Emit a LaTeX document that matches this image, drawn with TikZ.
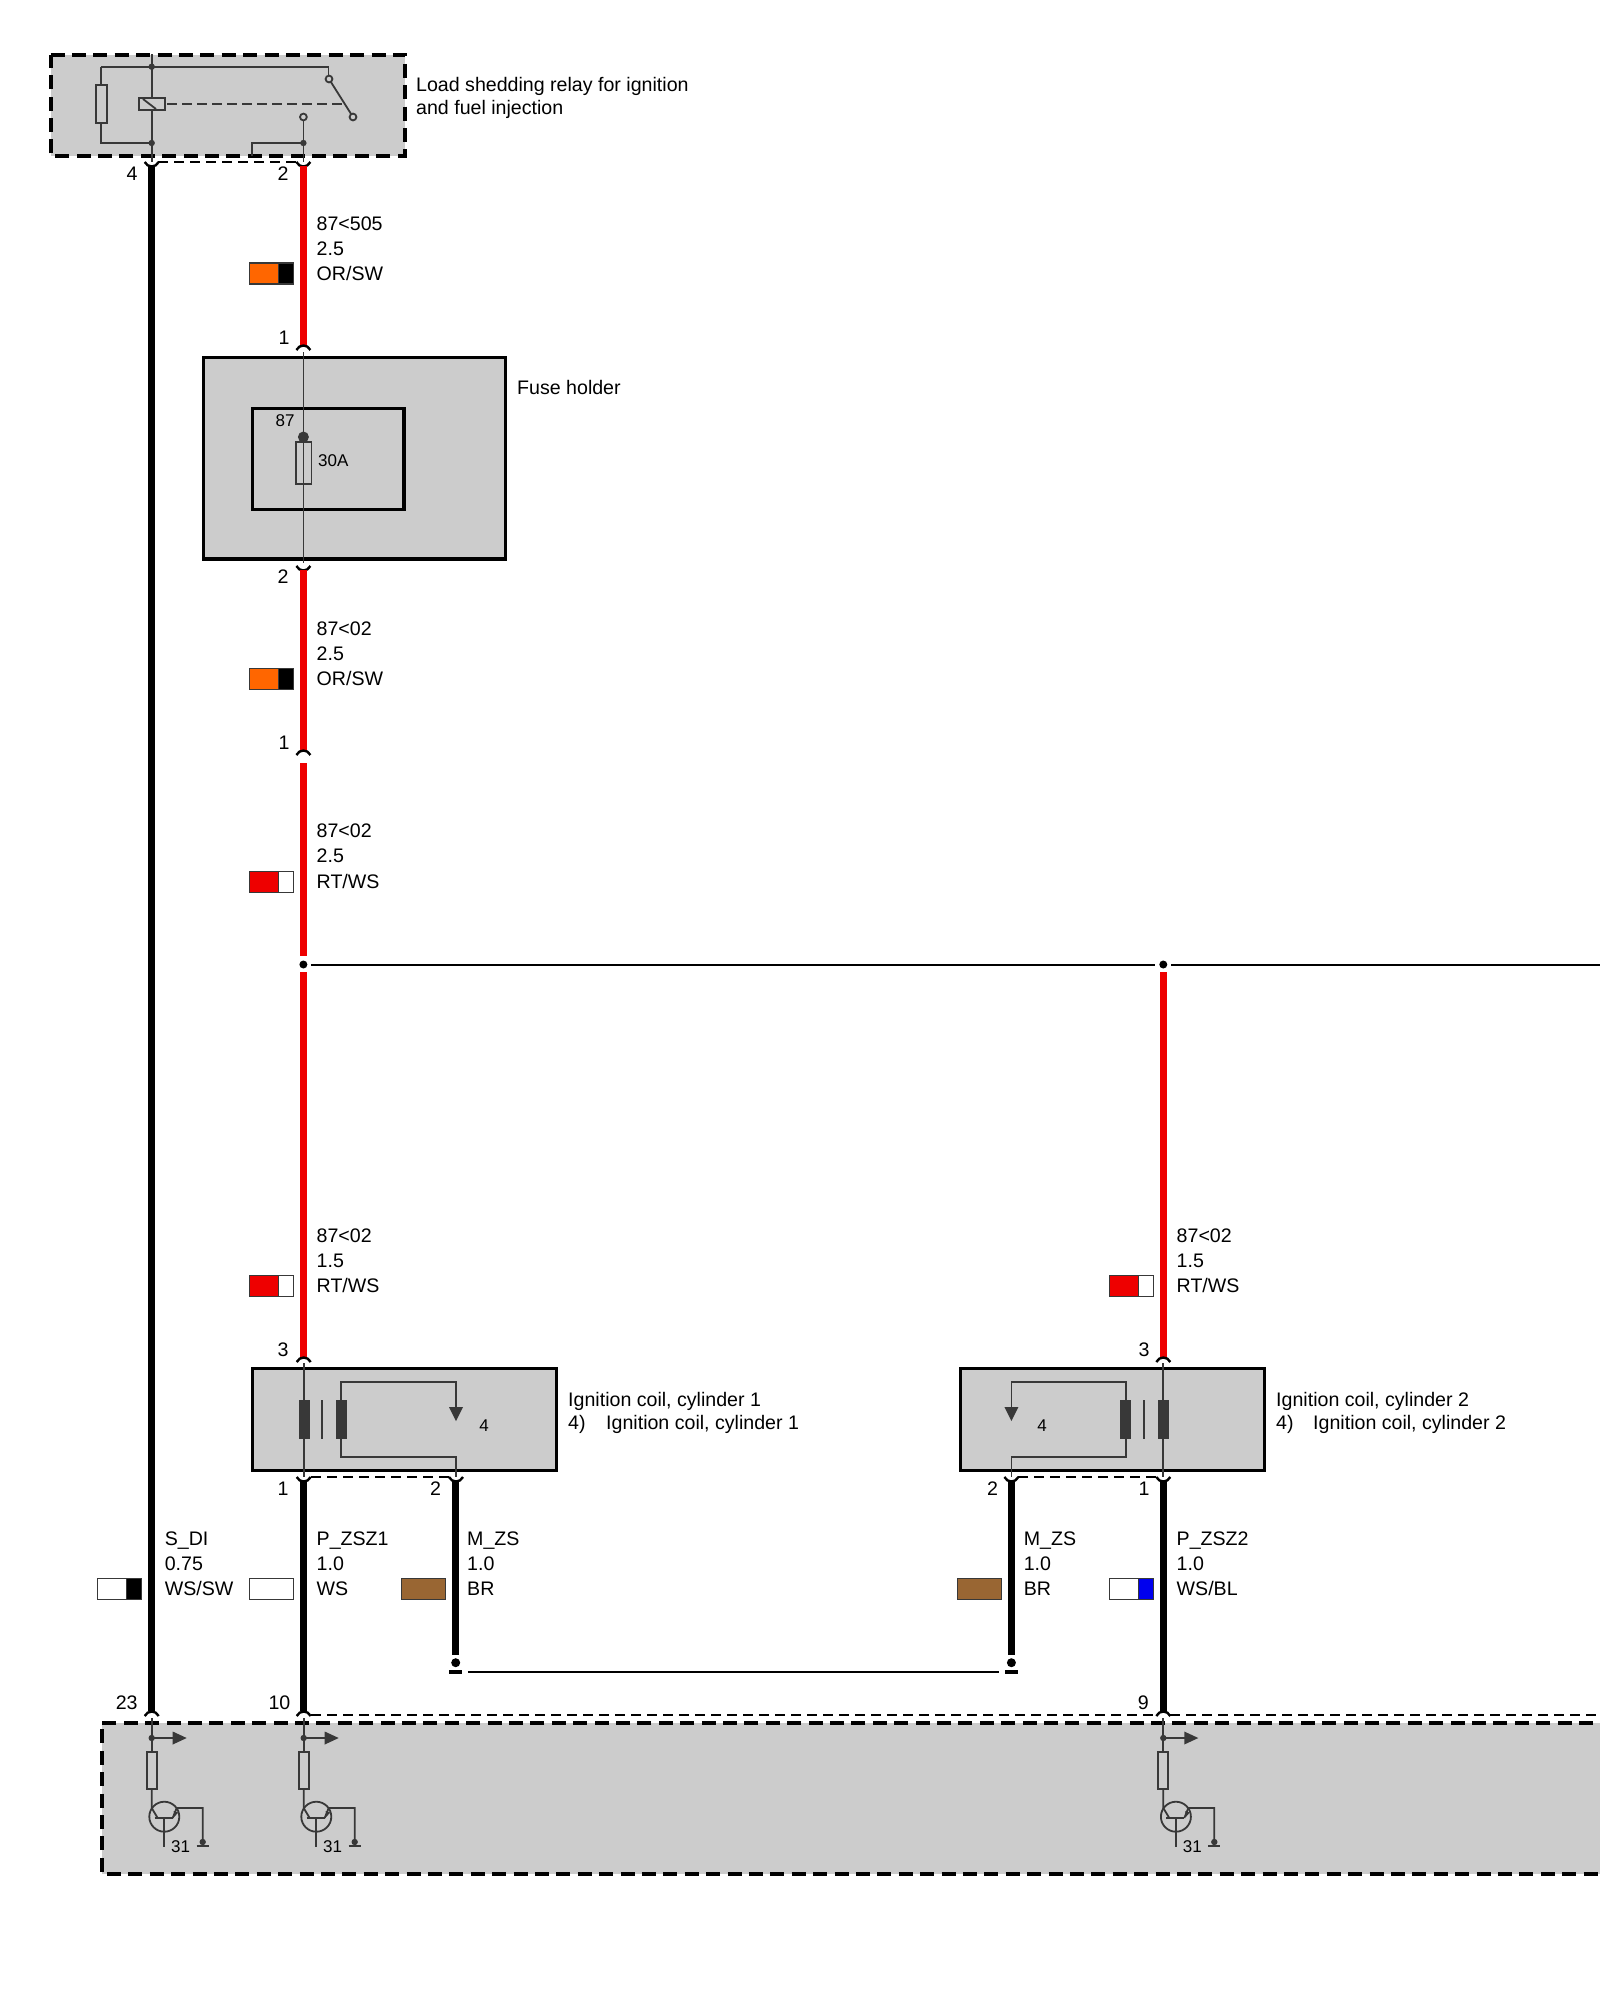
\documentclass[tikz,border=0pt]{standalone}
\usepackage{fontspec}
\usetikzlibrary{calc}
\setmainfont{Liberation Sans}
\newcommand{\txtbig}{\fontsize{19.6}{24}\selectfont}
\newcommand{\txtsmall}{\fontsize{17}{20}\selectfont}
\definecolor{boxgray}{HTML}{CCCCCC}
\definecolor{symgray}{HTML}{383838}
\definecolor{wirered}{HTML}{EE0000}
\definecolor{wireorange}{HTML}{FF6600}
\definecolor{wirebrown}{HTML}{996633}
\definecolor{wireblue}{HTML}{0000EE}
\tikzset{
  wirebase/.style={line width=7pt},
  wirer/.style={wirebase,draw=wirered},
  wirek/.style={wirebase,draw=black},
  link/.style={draw=black,line width=2pt},
  sym/.style={draw=symgray,line width=1.8pt},
  pincup/.style={draw=black,line width=2.4pt},
  dashthin/.style={draw=black,line width=1.8pt,dash pattern=on 10pt off 6pt},
  solidbox/.style={draw=black,fill=boxgray,line width=3.6pt},
  dashbox/.style={draw=black,line width=4pt,dash pattern=on 14pt off 7.4pt},
  swatch/.style={draw=symgray,line width=1.2pt},
  lab/.style={inner sep=0pt,anchor=base west,font=\txtbig},
  pinlab/.style={inner sep=0pt,anchor=base,font=\txtbig},
  smalllab/.style={inner sep=0pt,anchor=base,font=\txtsmall},
}
\newcommand{\wirelabel}[8]{%
  \node[lab] (#1a) at (#2,#3) {#6};
  \node[lab] (#1b) at (#2,#4) {#7};
  \node[lab] (#1c) at (#2,#5) {#8};}
\newcommand{\swatchtwo}[4]{%
  \fill[#3] (#1-54,#2-10.5) rectangle (#1-25,#2+10.5);
  \fill[#4] (#1-25,#2-10.5) rectangle (#1-10,#2+10.5);
  \draw[swatch] (#1-25,#2-10.5) -- (#1-25,#2+10.5);
  \draw[swatch] (#1-54,#2-10.5) rectangle (#1-10,#2+10.5);}
\newcommand{\swatchone}[3]{%
  \draw[swatch,fill=#3] (#1-54,#2-10.5) rectangle (#1-10,#2+10.5);}
\newcommand{\pinbelow}[2]{%
  \draw[pincup] (#1-7,#2) .. controls (#1-4,#2+6) and (#1+4,#2+6) .. (#1+7,#2);}
\newcommand{\pinabove}[2]{%
  \draw[pincup] (#1-7,#2) .. controls (#1-4,#2-6) and (#1+4,#2-6) .. (#1+7,#2);}
\newcommand{\inputstage}[2]{%
  \coordinate (#2top) at (#1,1718);
  \coordinate (#2res) at (#1,1752);
  \draw[sym] (#2top) -- (#2res);
  \fill[symgray] (#1,1738) circle (3.2);
  \draw[sym] (#1,1738) -- (#1+22,1738);
  \fill[symgray] (#1+21,1731.5) -- (#1+35,1738) -- (#1+21,1744.5) -- cycle;
  \draw[sym] (#1-5,1752) rectangle (#1+5,1789);
  \draw[sym] (#1,1789) -- (#1,1808) -- (#1+6,1818);
  \draw[sym] (#1+12.6,1816.7) circle (15);
  \draw[sym] (#1+3,1818) -- (#1+21,1818);
  \draw[sym] (#1+12.6,1818) -- (#1+12.6,1847);
  \draw[sym] (#1+21,1818) -- (#1+25,1808) -- (#1+51,1808) -- (#1+51,1842);
  \fill[symgray] (#1+22,1811) -- (#1+26.5,1812.5) -- (#1+22.5,1817) -- cycle;
  \fill[symgray] (#1+51,1842) circle (3.2);
  \draw[sym] (#1+45,1846) -- (#1+57,1846);
  \node[smalllab] (#2n) at (#1+29,1852.5) {31};}
\begin{document}
\begin{tikzpicture}[x=1pt,y=-1pt]
\useasboundingbox (0,0) rectangle (1600,2000);
\fill[white] (0,0) rectangle (1600,2000);

% ---- relay -----
\fill[boxgray] (50.5,54.5) rectangle (405,156);
\draw[dashbox] (50.5,54.5) -- (405,54.5) -- (405,156) -- (50.5,156) -- cycle;
\coordinate (k) at (151.7,162);
\coordinate (r) at (303.4,162);
\draw[sym] (151.7,54) -- (k);
\draw[sym] (101,66.7) -- (328.5,66.7) -- (328.5,79);
\draw[sym] (101,66.7) -- (101,143) -- (151.7,143);
\draw[sym,fill=boxgray] (96,85) rectangle (107,123);
\fill[symgray] (151.7,66.7) circle (3.2);
\fill[symgray] (151.7,143) circle (3.2);
\draw[sym,fill=boxgray] (139,98) rectangle (165,110);
\draw[sym] (143,99) -- (156,109);
\draw[sym,dash pattern=on 10pt off 5pt] (167,104) -- (345,104);
\draw[sym] (329,79) -- (353,117);
\draw[sym,fill=boxgray] (329,79) circle (3.4);
\draw[sym,fill=boxgray] (353,117) circle (3.4);
\draw[sym] (r) -- (303.4,120);
\draw[sym,fill=boxgray] (303.4,117) circle (3.4);
\draw[sym] (303.4,143) -- (252,143) -- (252,156);
\fill[symgray] (303.4,143) circle (3.2);
\node[lab] (relayA) at (416,91) {Load shedding relay for ignition};
\node[lab] (relayB) at (416,114) {and fuel injection};
\draw[dashthin] (158,162.3) -- (296,162.3);
\pinbelow{151.7}{162}
\pinbelow{303.4}{162}
\node[pinlab] (p4) at (132,180) {4};
\node[pinlab] (p2a) at (283,180) {2};

% ---- long black wire -----
\coordinate (kb) at (151.7,1711);
\draw[wirek] (151.7,166) -- (kb);

% ---- red wire relay to fuse -----
\coordinate (f1) at (303.4,346);
\draw[wirer] (303.4,166) -- (f1);
\pinabove{303.4}{350}
\node[pinlab] (p1a) at (284,344) {1};
\wirelabel{wa}{316.5}{230}{255}{280}{87<505}{2.5}{OR/SW}
\swatchtwo{303.4}{273.5}{wireorange}{black}

% ---- fuse holder -----
\draw[solidbox] (203.5,357.5) rectangle (505.5,559);
\draw[black,line width=3.6pt] (252.5,408.5) rectangle (404,509.5);
\coordinate (ft) at (303.4,352);
\coordinate (fb) at (303.4,563);
\draw[sym] (ft) -- (fb);
\fill[symgray] (303.4,437) circle (5.5);
\draw[sym] (296,442) rectangle (311.5,484);
\node[smalllab] (f87) at (285,426) {87};
\node[smalllab,anchor=base west] (f30) at (318,466) {30A};
\node[lab] (fuseN) at (517,394) {Fuse holder};
\pinbelow{303.4}{566}
\node[pinlab] (p2b) at (283,583) {2};

% ---- red wire fuse to connector -----
\coordinate (c1) at (303.4,751);
\draw[wirer] (303.4,570) -- (c1);
\pinabove{303.4}{755}
\node[pinlab] (p1b) at (284,749) {1};
\wirelabel{wb}{316.5}{635}{660}{685}{87<02}{2.5}{OR/SW}
\swatchtwo{303.4}{679}{wireorange}{black}

\coordinate (c2) at (303.4,763);
\coordinate (j1t) at (303.4,956);
\draw[wirer] (c2) -- (j1t);
\wirelabel{wc}{316.5}{837}{862}{888}{87<02}{2.5}{RT/WS}
\swatchtwo{303.4}{882}{wirered}{white}

% ---- junction and supply line -----
\node[circle,fill=black,inner sep=0pt,minimum size=8pt] (j1) at (303.4,964.5) {};
\node[circle,fill=black,inner sep=0pt,minimum size=8pt] (j2) at (1163.3,964.5) {};
\coordinate (rightend) at (1600,964.5);
\draw[link] ($(j1)+(7.5,0)$) -- ($(j2)+(-8,0)$);
\draw[link] ($(j2)+(8,0)$) -- (rightend);

% ---- red wires to coils -----
\draw[wirer] (303.4,972) -- (303.4,1358);
\draw[wirer] (1163.3,972) -- (1163.3,1358);
\wirelabel{wd}{316.5}{1242}{1267}{1292}{87<02}{1.5}{RT/WS}
\swatchtwo{303.4}{1286}{wirered}{white}
\wirelabel{we}{1176.5}{1242}{1267}{1292}{87<02}{1.5}{RT/WS}
\swatchtwo{1163.3}{1286}{wirered}{white}

% ---- coil 1 -----
\draw[solidbox] (252.5,1368.5) rectangle (556.5,1470.5);
\draw[sym] (303.7,1363) -- (303.7,1477);
\fill[symgray] (299,1400) rectangle (310,1439);
\fill[symgray] (336,1400) rectangle (347,1439);
\draw[sym] (322,1400) -- (322,1439);
\draw[sym] (341,1400) -- (341,1382) -- (456,1382) -- (456,1408);
\fill[symgray] (449,1407) -- (463,1407) -- (456,1421) -- cycle;
\draw[sym] (341,1439) -- (341,1457) -- (456,1457) -- (456,1477);
\node[smalllab] (c4a) at (484,1431) {4};
\node[lab] (coilA) at (568,1406) {Ignition coil, cylinder 1};
\node[lab] (coilB) at (568,1429) {4)};
\node[lab] (coilC) at (606,1429) {Ignition coil, cylinder 1};
\pinabove{303.7}{1362}
\pinbelow{303.7}{1477}
\pinbelow{456}{1477}
\draw[dashthin] (311,1477) -- (449,1477);
\node[pinlab] (p3a) at (283,1356) {3};
\node[pinlab] (p1c) at (283,1495) {1};
\node[pinlab] (p2c) at (435.5,1495) {2};

% ---- coil 2 -----
\draw[solidbox] (960.5,1368.5) rectangle (1264.5,1470.5);
\draw[sym] (1163.3,1363) -- (1163.3,1477);
\fill[symgray] (1157.5,1400) rectangle (1168.5,1439);
\fill[symgray] (1120,1400) rectangle (1131,1439);
\draw[sym] (1144,1400) -- (1144,1439);
\draw[sym] (1125.7,1400) -- (1125.7,1382) -- (1011.4,1382) -- (1011.4,1408);
\fill[symgray] (1004.4,1407) -- (1018.4,1407) -- (1011.4,1421) -- cycle;
\draw[sym] (1125.7,1439) -- (1125.7,1457) -- (1011.4,1457) -- (1011.4,1477);
\node[smalllab] (c4b) at (1042,1431) {4};
\node[lab] (coilD) at (1276,1406) {Ignition coil, cylinder 2};
\node[lab] (coilE) at (1276,1429) {4)};
\node[lab] (coilF) at (1313,1429) {Ignition coil, cylinder 2};
\pinabove{1163.3}{1362}
\pinbelow{1163.3}{1477}
\pinbelow{1011.4}{1477}
\draw[dashthin] (1018,1477) -- (1156,1477);
\node[pinlab] (p3b) at (1144,1356) {3};
\node[pinlab] (p1d) at (1144,1495) {1};
\node[pinlab] (p2d) at (992.5,1495) {2};

% ---- lower wires -----
\draw[wirek] (303.7,1481) -- (303.7,1711);
\draw[wirek] (1163.3,1481) -- (1163.3,1711);
\draw[wirek] (455.7,1481) -- (455.7,1655);
\draw[wirek] (1011.4,1481) -- (1011.4,1655);
\node[circle,fill=black,inner sep=0pt,minimum size=9pt] (g1) at (455.7,1662.7) {};
\node[circle,fill=black,inner sep=0pt,minimum size=9pt] (g2) at (1011.4,1662.7) {};
\node[fill=black,inner sep=0pt,minimum width=13pt,minimum height=4pt] (b1) at (455.2,1672.3) {};
\node[fill=black,inner sep=0pt,minimum width=13pt,minimum height=4pt] (b2) at (1011.4,1672.3) {};
\draw[link] ($(b1.east)+(6,0)$) -- ($(b2.west)+(-6,0)$);

\wirelabel{wf}{164.6}{1545}{1570}{1595}{S\_DI}{0.75}{WS/SW}
\swatchtwo{151.7}{1589}{white}{black}
\wirelabel{wg}{316.5}{1545}{1570}{1595}{P\_ZSZ1}{1.0}{WS}
\swatchone{303.7}{1589}{white}
\wirelabel{wh}{467}{1545}{1570}{1595}{M\_ZS}{1.0}{BR}
\swatchone{455.7}{1589}{wirebrown}
\wirelabel{wi}{1023.6}{1545}{1570}{1595}{M\_ZS}{1.0}{BR}
\swatchone{1011.7}{1589}{wirebrown}
\wirelabel{wj}{1176.5}{1545}{1570}{1595}{P\_ZSZ2}{1.0}{WS/BL}
\swatchtwo{1163.3}{1589}{white}{wireblue}

% ---- control unit -----
\fill[boxgray] (101.7,1722.7) rectangle (1600,1874);
\draw[dashbox] (1593,1722.7) -- (101.7,1722.7) -- (101.7,1874) -- (1600,1874);
\draw[dashthin] (311,1715) -- (1156,1715);
\draw[dashthin] (1170,1715) -- (1600,1715);
\pinabove{151.7}{1716}
\pinabove{303.7}{1716}
\pinabove{1163.3}{1716}
\inputstage{151.7}{sa}
\inputstage{303.7}{sb}
\inputstage{1163.3}{sc}
\node[pinlab] (p23) at (126.7,1709) {23};
\node[pinlab] (p10) at (279.5,1709) {10};
\node[pinlab] (p9) at (1143.3,1709) {9};
\end{tikzpicture}
\end{document}
